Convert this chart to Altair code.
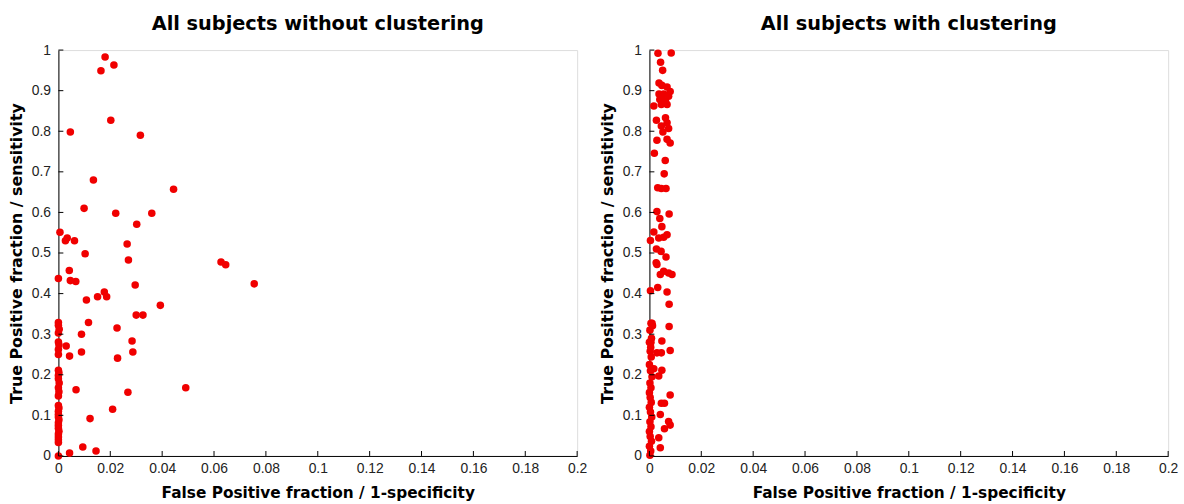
import altair as alt
import pandas as pd

# False / true positive fractions per subject, without clustering
fpr_plain = [
    0.018, 0.0164, 0.0214, 0.0202, 0.0046, 0.0316, 0.0135, 0.0444, 0.0099, 0.0221,
    0.036, 0.0302, 0.0006, 0.0027, 0.0034, 0.0062, 0.0265, 0.0103, 0.027, 0.0042,
    0.0, 0.0046, 0.0067, 0.0296, 0.0108, 0.0151, 0.0177, 0.0186, 0.0393, 0.030,
    0.0326, 0.0116, 0.0226, 0.0089, 0.0284, 0.003, 0.0089, 0.0287, 0.0043, 0.0228,
    0.0068, 0.0268, 0.0491, 0.0209, 0.0122, 0.0094, 0.0145, 0.0043, 0.0627, 0.0645,
    0.0755,
    0.0, 0.0, 0.0003, 0.0, 0.0, 0.0002, 0.0, 0.0, 0.0, 0.0002,
    0.0, 0.0, 0.0003, 0.0, 0.0002, 0.0, 0.0, 0.0002, 0.0, 0.0,
    0.0, 0.0002, 0.0, 0.0, 0.0, 0.0002, 0.0, 0.0, 0.0, 0.0,
    0.0,
]
tpr_plain = [
    0.983, 0.949, 0.963, 0.827, 0.798, 0.790, 0.680, 0.657, 0.610, 0.598,
    0.598, 0.571, 0.551, 0.530, 0.537, 0.530, 0.522, 0.498, 0.483, 0.457,
    0.437, 0.432, 0.430, 0.421, 0.384, 0.392, 0.404, 0.392, 0.371, 0.347,
    0.347, 0.329, 0.315, 0.300, 0.283, 0.271, 0.256, 0.256, 0.246, 0.241,
    0.163, 0.157, 0.168, 0.115, 0.092, 0.022, 0.012, 0.007, 0.478, 0.471,
    0.424,
    0.329, 0.322, 0.312, 0.303, 0.281, 0.274, 0.262, 0.250, 0.211, 0.205,
    0.198, 0.190, 0.180, 0.168, 0.158, 0.148, 0.124, 0.118, 0.110, 0.103,
    0.096, 0.089, 0.082, 0.075, 0.068, 0.061, 0.054, 0.047, 0.040, 0.033,
    0.0,
]

# Same subjects after clustering
fpr_clustered = [
    0.0033, 0.0084, 0.0043, 0.0051, 0.0037, 0.0048, 0.0068, 0.008, 0.0037, 0.0055,
    0.0074, 0.0046, 0.004, 0.0062, 0.0017, 0.0046, 0.0068, 0.0027, 0.0062, 0.0068,
    0.0046, 0.0074, 0.0052, 0.0029, 0.0068, 0.008, 0.0019, 0.0061, 0.0057, 0.0032,
    0.0046, 0.0064, 0.0029, 0.0076, 0.004, 0.0017, 0.0048, 0.0068, 0.0004, 0.0036,
    0.0055, 0.0027, 0.0045, 0.0064, 0.0026, 0.0029, 0.0055, 0.0074, 0.0042, 0.0087,
    0.0004, 0.0032, 0.0068, 0.0076, 0.001, 0.0012, 0.0076, 0.0048, 0.0006, 0.0029,
    0.0046, 0.008, 0.0048, 0.0017, 0.0036, 0.008, 0.0046, 0.0058, 0.0042, 0.0074,
    0.008, 0.0058, 0.0036, 0.0042,
    0.0002, 0.0005, 0.0, 0.0008, 0.0003, 0.0, 0.0006, 0.0002, 0.0009, 0.0004,
    0.0, 0.0007, 0.0003, 0.0, 0.0006, 0.0002, 0.001, 0.0004, 0.0, 0.0007,
    0.0003, 0.0005, 0.0, 0.0008, 0.0002, 0.0006,
]
tpr_clustered = [
    0.992, 0.993, 0.970, 0.950, 0.919, 0.913, 0.909, 0.898, 0.892, 0.892,
    0.886, 0.884, 0.878, 0.874, 0.862, 0.866, 0.866, 0.827, 0.833, 0.821,
    0.813, 0.807, 0.798, 0.778, 0.780, 0.771, 0.746, 0.728, 0.695, 0.661,
    0.659, 0.659, 0.602, 0.596, 0.585, 0.552, 0.565, 0.545, 0.531, 0.537,
    0.539, 0.510, 0.504, 0.490, 0.476, 0.472, 0.455, 0.451, 0.447, 0.447,
    0.407, 0.415, 0.404, 0.374, 0.327, 0.321, 0.319, 0.283, 0.280, 0.254,
    0.254, 0.260, 0.211, 0.215, 0.197, 0.150, 0.130, 0.130, 0.102, 0.085,
    0.076, 0.067, 0.045, 0.020,
    0.002, 0.012, 0.024, 0.036, 0.048, 0.060, 0.072, 0.084, 0.096, 0.108,
    0.120, 0.132, 0.144, 0.156, 0.168, 0.180, 0.195, 0.210, 0.225, 0.244,
    0.258, 0.268, 0.280, 0.290, 0.310, 0.327,
]

x_ticks = [0, 0.02, 0.04, 0.06, 0.08, 0.1, 0.12, 0.14, 0.16, 0.18, 0.2]
y_ticks = [0, 0.1, 0.2, 0.3, 0.4, 0.5, 0.6, 0.7, 0.8, 0.9, 1.0]

LABEL_FONT = "Liberation Sans"
TITLE_FONT = "DejaVu Sans"
W, H = 524, 410
TICK_LEN = 5
X_TITLE = "False Positive fraction / 1-specificity"
Y_TITLE = "True Positive fraction / sensitivity"

x_scale = alt.Scale(domain=[0, 0.2], nice=False, zero=True)
y_scale = alt.Scale(domain=[0, 1], nice=False, zero=True)

x_axis = alt.Axis(
    values=x_ticks,
    labelExpr="format(datum.value, '~g')",
    labelFlush=False,
    grid=False,
    ticks=False,
    domainColor="#000",
    labelFont=LABEL_FONT,
    labelFontSize=14,
    labelColor="#222",
    labelPadding=6,
    titleFont=TITLE_FONT,
    titleFontSize=15.5,
    titleFontWeight="bold",
    titleColor="#000",
    titlePadding=10,
)
y_axis = alt.Axis(
    values=y_ticks,
    labelExpr="format(datum.value, '~g')",
    labelFlush=False,
    grid=False,
    ticks=False,
    domainColor="#000",
    labelFont=LABEL_FONT,
    labelFontSize=14,
    labelColor="#222",
    labelPadding=8,
    titleFont=TITLE_FONT,
    titleFontSize=16,
    titleFontWeight="bold",
    titleColor="#000",
    titlePadding=7,
)


def panel(fpr, tpr, title):
    pts = pd.DataFrame({"fpr": fpr, "tpr": tpr})
    scatter = alt.Chart(pts).mark_circle(size=58, color="#f00000", opacity=1).encode(
        x=alt.X("fpr:Q", scale=x_scale, axis=x_axis, title=X_TITLE),
        y=alt.Y("tpr:Q", scale=y_scale, axis=y_axis, title=Y_TITLE),
    )
    # inward-pointing tick marks on both axes
    xt = alt.Chart(pd.DataFrame({"fpr": x_ticks})).mark_rule(color="#000", strokeWidth=1).encode(
        x=alt.X("fpr:Q", scale=x_scale, axis=x_axis, title=X_TITLE),
        y=alt.value(H),
        y2=alt.value(H - TICK_LEN),
    )
    yt = alt.Chart(pd.DataFrame({"tpr": y_ticks})).mark_rule(color="#000", strokeWidth=1).encode(
        y=alt.Y("tpr:Q", scale=y_scale, axis=y_axis, title=Y_TITLE),
        x=alt.value(0),
        x2=alt.value(TICK_LEN),
    )
    return alt.layer(scatter, xt, yt).properties(
        width=W,
        height=H,
        title=alt.TitleParams(
            title, fontSize=19.5, fontWeight="bold", font=TITLE_FONT, frame="group",
            anchor="middle", offset=9, color="#000",
        ),
    )


left = panel(fpr_plain, tpr_plain, "All subjects without clustering")
right = panel(fpr_clustered, tpr_clustered, "All subjects with clustering")

chart = (
    alt.hconcat(left, right, spacing=11)
    .properties(padding={"left": 8, "top": 11, "right": 5, "bottom": 5})
    .configure_view(stroke="transparent", strokeWidth=0)
    .configure(background="#ffffff")
)

chart.save("out.html", embed_options={"renderer": "svg", "actions": False})
